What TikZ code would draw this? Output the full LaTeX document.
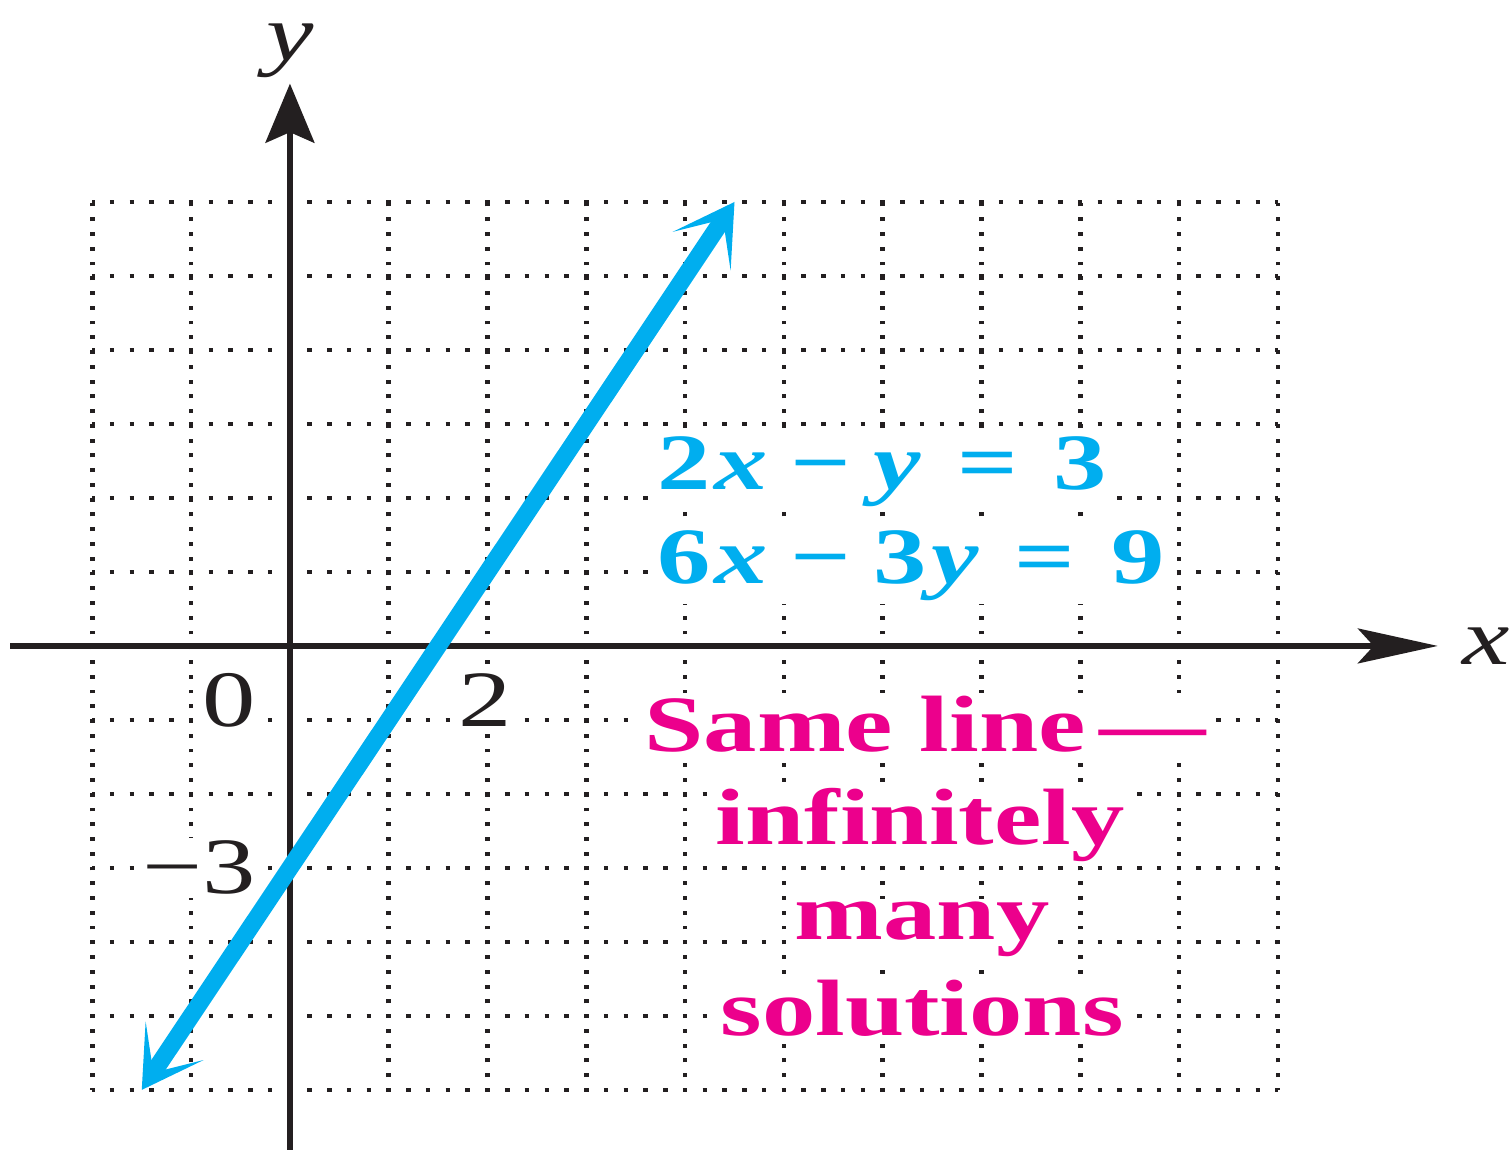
\documentclass[tikz,border=0pt]{standalone}
\usepackage{fontspec}
\setmainfont{Liberation Serif}[FakeStretch=1.335]
\usepackage{tikz}
\usetikzlibrary{arrows.meta}
\definecolor{mycyan}{RGB}{0,174,239}
\definecolor{mypink}{RGB}{236,0,140}
\definecolor{myblack}{RGB}{35,31,32}
\newcommand{\mgap}{\hspace{0.28em}}
\newcommand{\egap}{\hspace{0.45em}}
\newcommand{\vx}{\hspace{0.05em}\textit{x}}
\newcommand{\vy}{\hspace{0.05em}\textit{y}}

\begin{document}
\begin{tikzpicture}[x=1cm, y=0.749cm,
  hdots/.style={myblack, line width=1.3pt, dash pattern=on 1.3pt off 4.39pt, dash phase=0.65pt},
  vdots/.style={myblack, line width=1.3pt, dash pattern=on 1.1pt off 3.15pt, dash phase=0.55pt},
  axis/.style={myblack, line width=1.9pt},
  eqn/.style={mycyan, font=\fontsize{23}{27}\selectfont\bfseries, fill=white, inner sep=1pt, anchor=base west},
  note/.style={mypink, font=\fontsize{23}{27}\selectfont\bfseries, fill=white, inner sep=1pt, anchor=base},
  tick/.style={myblack, font=\fontsize{23}{27}\selectfont, fill=white, inner sep=1pt}]

\useasboundingbox (-2.935,-6.85) rectangle (12.34,8.73);

\foreach \y in {-6,...,6} \draw[hdots] (-2,\y) -- (10,\y);
\foreach \x in {-2,...,10} \draw[vdots] (\x,-6) -- (\x,6);

\node[eqn] (eqa) at (3.68,2.11) {2\vx\mgap−\mgap\textit{y}\egap=\egap3};
\node[eqn] (eqb) at (3.68,0.85) {6\vx\mgap−\mgap3\vy\egap=\egap9};

\node[note] (same) at (6.43,-1.43) {Same line\,—};
\node[note] (infin) at (6.38,-2.69) {infinitely};
\node[note] (many) at (6.40,-3.97) {many};
\node[note] (sols) at (6.40,-5.26) {solutions};

\node[tick, anchor=east] (zero) at (-0.3,-0.73) {0};
\node[tick] (two) at (1.98,-0.73) {2};
\node[tick, anchor=east] (mthree) at (-0.3,-3) {−3};

\coordinate (xl) at (-2.83,0);
\coordinate (xr) at (11.62,0);
\coordinate (yb) at (0,-6.81);
\coordinate (yt) at (0,7.6);
\draw[axis, -{Stealth[length=23pt, width=10pt, inset=4.5pt]}] (xl) -- (xr);
\draw[axis, -{Stealth[length=17pt, width=14pt, inset=3pt]}] (yb) -- (yt);
\node[tick, fill=none] (xlab) at (12.11,0) {\textit{x}};
\node[tick, fill=none] (ylab) at (0,8.05) {\textit{y}};

\coordinate (lo) at (-1.5,-6);
\coordinate (hi) at (4.5,6);
\draw[mycyan, line width=5pt,
  {Stealth[length=17pt, width=20pt, inset=11pt]}-{Stealth[length=17pt, width=20pt, inset=11pt]}] (lo) -- (hi);
\end{tikzpicture}
\end{document}
